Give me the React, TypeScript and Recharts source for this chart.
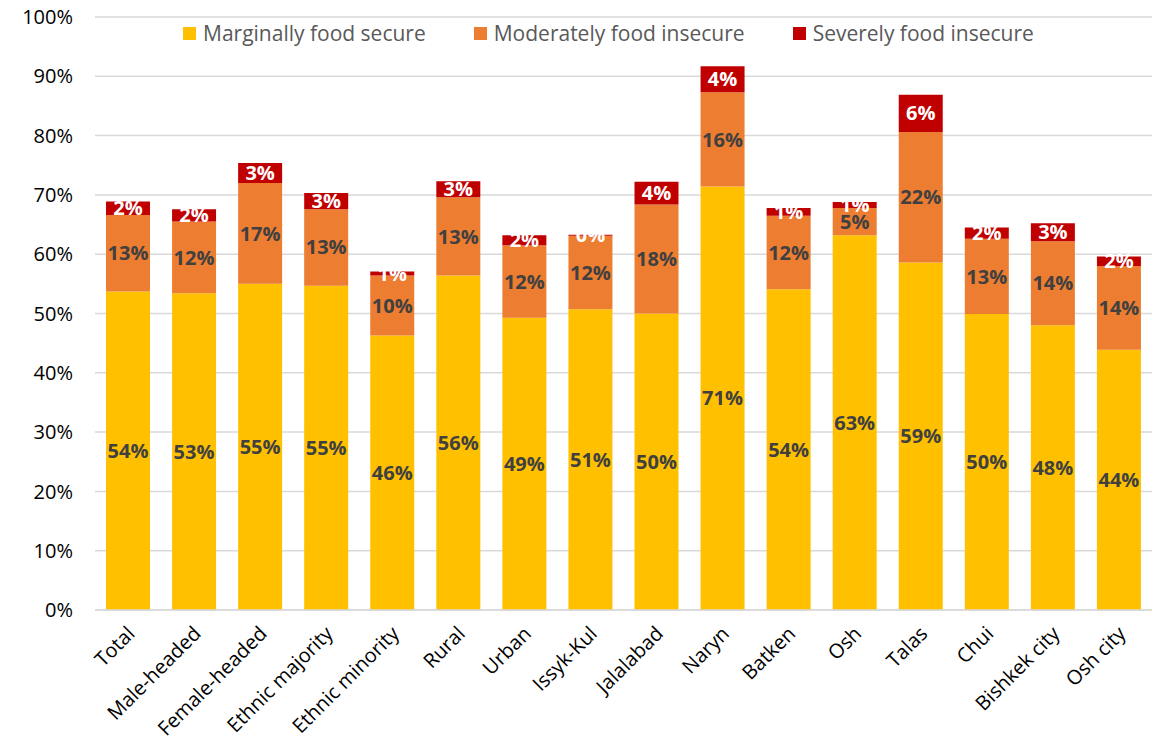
import { BarChart, Bar, XAxis, YAxis, CartesianGrid, LabelList } from "recharts";

const categories = [
  "Total", "Male-headed", "Female-headed", "Ethnic majority", "Ethnic minority",
  "Rural", "Urban", "Issyk-Kul", "Jalalabad", "Naryn", "Batken", "Osh",
  "Talas", "Chui", "Bishkek city", "Osh city",
];
const marginal = [53.7, 53.4, 55.0, 54.7, 46.3, 56.4, 49.3, 50.7, 50.0, 71.4, 54.1, 63.2, 58.6, 49.9, 48.0, 43.9];
const moderate = [12.9, 12.1, 17.0, 12.9, 10.1, 13.2, 12.2, 12.4, 18.4, 15.9, 12.4, 4.6, 22.0, 12.7, 14.2, 14.1];
const severe = [2.3, 2.1, 3.4, 2.7, 0.7, 2.7, 1.7, 0.2, 3.8, 4.4, 1.3, 1.0, 6.3, 1.9, 3.0, 1.6];
const yTicks = [0, 10, 20, 30, 40, 50, 60, 70, 80, 90, 100];

const series = [
  { key: "marginal", name: "Marginally food secure", color: "#FFC000", label: "#404040" },
  { key: "moderate", name: "Moderately food insecure", color: "#ED7D31", label: "#404040" },
  { key: "severe", name: "Severely food insecure", color: "#C00000", label: "#FFFFFF" },
];

const data = categories.map((c, i) => ({
  name: c,
  marginal: marginal[i],
  moderate: moderate[i],
  severe: severe[i],
}));

const FONT = "'Open Sans', sans-serif";

function XTick({ x, y, payload }: any) {
  return (
    <g transform={`translate(${x + 3},${y + 12})`}>
      <text
        transform="rotate(-45)"
        textAnchor="end"
        dy="0.35em"
        fontFamily={FONT}
        fontSize={20}
        fill="#000"
      >
        {payload.value}
      </text>
    </g>
  );
}

function LegendBox() {
  return (
    <div
      style={{
        position: "absolute",
        top: 18,
        left: 183,
        display: "flex",
        gap: 48,
        fontFamily: FONT,
        fontSize: 21,
        lineHeight: "30px",
        color: "#595959",
      }}
    >
      {series.map((s) => (
        <div key={s.key} style={{ display: "flex", alignItems: "center", gap: 7 }}>
          <span style={{ width: 13, height: 13, background: s.color, display: "inline-block" }} />
          <span>{s.name}</span>
        </div>
      ))}
    </div>
  );
}

export default function App() {
  return (
    <div style={{ position: "relative", width: 1171, height: 745, background: "#fff" }}>
      <style>{"body{margin:0}"}</style>
      <BarChart
        width={1171}
        height={745}
        data={data}
        margin={{ top: 17, right: 19, left: 0, bottom: 0 }}
        barSize={44}
      >
        <CartesianGrid vertical={false} stroke="#D9D9D9" strokeWidth={1.5} />
        <XAxis
          dataKey="name"
          interval={0}
          height={135}
          tickLine={false}
          axisLine={{ stroke: "#D9D9D9", strokeWidth: 1.5 }}
          tick={<XTick />}
        />
        <YAxis
          domain={[0, 100]}
          ticks={yTicks}
          width={95}
          axisLine={false}
          tickLine={false}
          tickSize={0}
          tickMargin={22}
          tickFormatter={(v) => `${v}%`}
          tick={{ fontFamily: FONT, fontSize: 20, fill: "#000" }}
        />
        {series.map((s) => (
          <Bar key={s.key} dataKey={s.key} name={s.name} stackId="a" fill={s.color} isAnimationActive={false}>
            <LabelList
              dataKey={s.key}
              position="center"
              formatter={(v: any) => `${Math.round(v)}%`}
              style={{ fontFamily: FONT, fontSize: 20, fontWeight: 700, fill: s.label }}
            />
          </Bar>
        ))}
      </BarChart>
      <LegendBox />
    </div>
  );
}
